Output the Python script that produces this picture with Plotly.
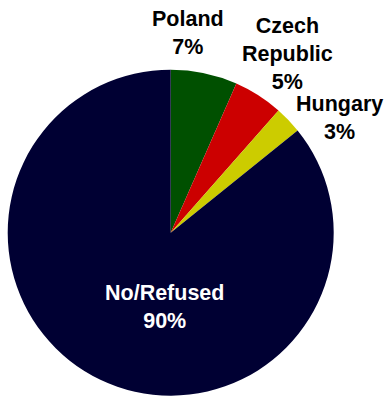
import plotly.graph_objects as go

labels = ["Poland", "Czech<br>Republic", "Hungary", "No/Refused"]
values = [6.6, 4.9, 2.7, 85.8]
pct_labels = ["7%", "5%", "3%", "90%"]
colors = ["#005000", "#CC0000", "#CCCC00", "#000033"]

W, H = 384, 398
# label centers in page pixels (styling/placement)
label_pos = [(188, 33), (287, 54), (339, 118), (164, 307)]
label_col = ["black", "black", "black", "white"]

L, T, D = 7.7, 69.7, 326.0  # pie box in page pixels
fig = go.Figure(go.Pie(
    labels=labels, values=values, sort=False, direction="clockwise",
    rotation=0, marker=dict(colors=colors, line=dict(width=0)),
    textinfo="none", hoverinfo="label+percent",
    domain=dict(x=[L / W, (L + D) / W],
                y=[(H - (T + D)) / H, (H - T) / H]),
    showlegend=False,
))

for lab, pct, (px, py), col in zip(labels, pct_labels, label_pos, label_col):
    fig.add_annotation(
        text="<b>" + lab.replace("<br>", "</b><br><b>") + "</b><br><b>" + pct + "</b>",
        x=px / W, y=1 - py / H, xref="paper", yref="paper",
        xanchor="center", yanchor="middle", showarrow=False,
        font=dict(family="Liberation Sans, Arial, sans-serif", size=21.5, color=col),
    )

fig.update_layout(
    width=W, height=H, margin=dict(l=0, r=0, t=0, b=0),
    paper_bgcolor="white", plot_bgcolor="white",
)

fig.write_html(
    "out.html",
    config={"displayModeBar": False},
    post_script="document.body.style.margin='0';document.body.style.overflow='hidden';",
)
